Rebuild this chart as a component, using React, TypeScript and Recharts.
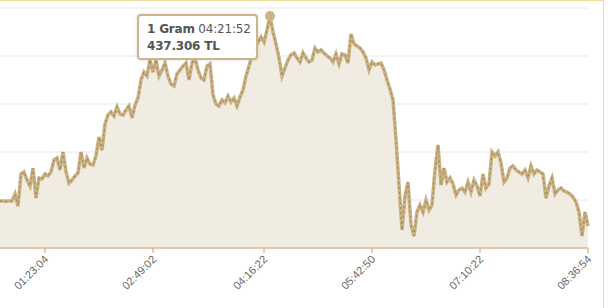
import React from 'react'
import {
  AreaChart,
  Area,
  XAxis,
  YAxis,
  CartesianGrid,
  Tooltip
} from 'recharts'

// gram gold price (TL), one reading per step
const prices = [
  424.97, 424.97, 424.95, 424.97, 424.97, 425.44, 424.64, 426.77, 426.91, 426.37,
  425.97, 427.17, 425.17, 426.51, 426.45, 426.77, 426.64, 426.91, 427.71, 427.84,
  427.04, 428.24, 426.91, 426.17, 426.37, 426.64, 426.84, 428.24, 427.17, 427.84,
  427.44, 427.37, 427.97, 429.24, 428.37, 430.11, 430.71, 430.91, 430.64, 431.24,
  430.77, 430.71, 431.04, 431.31, 430.51, 431.37, 431.84, 433.04, 433.57, 433.31,
  434.37, 433.57, 434.37, 433.31, 433.71, 434.17, 433.31, 432.77, 432.64, 433.44,
  433.71, 433.97, 434.17, 433.04, 434.17, 434.51, 433.71, 433.17, 433.04, 433.97,
  434.11, 432.04, 431.44, 431.31, 431.71, 431.51, 431.97, 431.57, 431.84, 431.31,
  431.91, 432.37, 433.31, 433.97, 434.64, 435.17, 435.57, 435.91, 435.57, 436.37,
  437.306, 436.24, 435.44, 434.51, 433.31, 433.84, 434.37, 434.71, 434.84, 434.51,
  434.24, 434.84, 434.51, 434.24, 434.37, 435.17, 434.91, 435.04, 434.84, 434.64,
  434.51, 434.24, 434.77, 434.11, 434.77, 434.71, 434.17, 436.11, 435.44, 435.31,
  435.17, 434.91, 434.51, 433.71, 434.24, 434.04, 434.11, 434.17, 433.71, 433.04,
  432.44, 431.71, 429.04, 426.04, 423.04, 425.31, 426.24, 423.37, 422.64, 424.24,
  424.71, 424.24, 425.04, 424.37, 424.71, 427.04, 428.71, 426.04, 427.17, 426.24,
  426.51, 426.11, 425.37, 425.71, 425.84, 425.57, 426.24, 425.57, 426.37, 425.97,
  425.31, 426.77, 425.84, 426.11, 428.24, 427.97, 428.24, 427.51, 426.24, 426.51,
  427.17, 427.31, 427.04, 426.91, 426.77, 427.04, 426.51, 427.31, 426.77, 427.04,
  426.91, 426.77, 425.17, 425.97, 426.51, 425.44, 425.71, 425.84, 425.64, 425.57,
  425.44, 425.24, 424.91, 424.24, 422.64, 424.24, 423.31
]

const tickIndex = [15, 51, 88, 124, 160, 196]
const tickLabels = ['01:23:04', '02:49:02', '04:16:22', '05:42:50', '07:10:22', '08:36:54']
const gridValues = [421.84, 425.04, 428.24, 431.44, 434.64, 437.84]

const peakIndex = 90
const peakTime = '04:21:52'

const data = prices.map((p, i) => ({ i, price: p }))

const TimeTick = (props: any) => {
  const { x, y, payload } = props
  const k = tickIndex.indexOf(payload.value)
  return (
    <g transform={`translate(${x + 4},${y + 5})`}>
      <text
        x={0}
        y={0}
        transform="rotate(-45)"
        textAnchor="end"
        fill="#666"
        fontSize={11}
        fontFamily="Liberation Sans, Arial, sans-serif"
      >
        {k >= 0 ? tickLabels[k] : ''}
      </text>
    </g>
  )
}

const GoldTooltip = ({ active, payload }: any) => {
  if (!active || !payload || !payload.length) return null
  return (
    <div
      style={{
        background: 'rgba(255,255,255,0.95)',
        border: '2px solid #c9b68c',
        borderRadius: 4,
        boxShadow: '0 0 3px rgba(0,0,0,0.15)',
        padding: '5px 8px 4px 8px',
        width: 101,
        height: 33,
        fontFamily: 'DejaVu Sans, Verdana, sans-serif',
        fontSize: 12,
        letterSpacing: -0.2,
        lineHeight: '17px',
        color: '#555',
        whiteSpace: 'nowrap'
      }}
    >
      <div>
        <b>1 Gram</b> {peakTime}
      </div>
      <div style={{ fontWeight: 'bold' }}>
        {Number(payload[0].value).toFixed(3)} TL
      </div>
    </div>
  )
}

export default function App() {
  return (
    <div style={{ position: 'absolute', left: 0, top: 0, width: 609, height: 308, overflow: 'hidden', background: '#fff' }}>
      <div
        style={{
          position: 'absolute',
          left: -2,
          top: 0,
          width: 606,
          height: 400,
          borderTop: '1px solid #f0dc9c',
          borderRight: '1px solid #f0dc9c',
          boxSizing: 'border-box'
        }}
      />
      <div style={{ position: 'absolute', left: 0, top: 0 }}>
        <AreaChart
          width={609}
          height={308}
          data={data}
          margin={{ top: 8, right: 21, left: 0, bottom: 0 }}
        >
          <CartesianGrid vertical={false} stroke="#e8e8e8" />
          <XAxis
            dataKey="i"
            type="number"
            domain={[0, prices.length - 1]}
            ticks={tickIndex}
            interval={0}
            height={60}
            stroke="#c9a468"
            tickSize={5}
            tick={<TimeTick />}
          />
          <YAxis hide domain={[gridValues[0], gridValues[5]]} ticks={gridValues} />
          <Tooltip
            defaultIndex={peakIndex}
            content={<GoldTooltip />}
            cursor={false}
            position={{ x: 137, y: 14 }}
            isAnimationActive={false}
            wrapperStyle={{ outline: 'none' }}
          />
          <Area
            type="linear"
            dataKey="price"
            stroke="#c9b183"
            strokeWidth={3.5}
            fill="#f1ece2"
            fillOpacity={1}
            dot={false}
            activeDot={{ r: 5, fill: '#cdb485', stroke: 'none' }}
            isAnimationActive={false}
          />
          <Area
            type="linear"
            dataKey="price"
            stroke="#a38a5a"
            strokeWidth={1.2}
            strokeDasharray="2 3"
            fill="none"
            dot={false}
            activeDot={false}
            isAnimationActive={false}
          />
        </AreaChart>
      </div>
    </div>
  )
}
